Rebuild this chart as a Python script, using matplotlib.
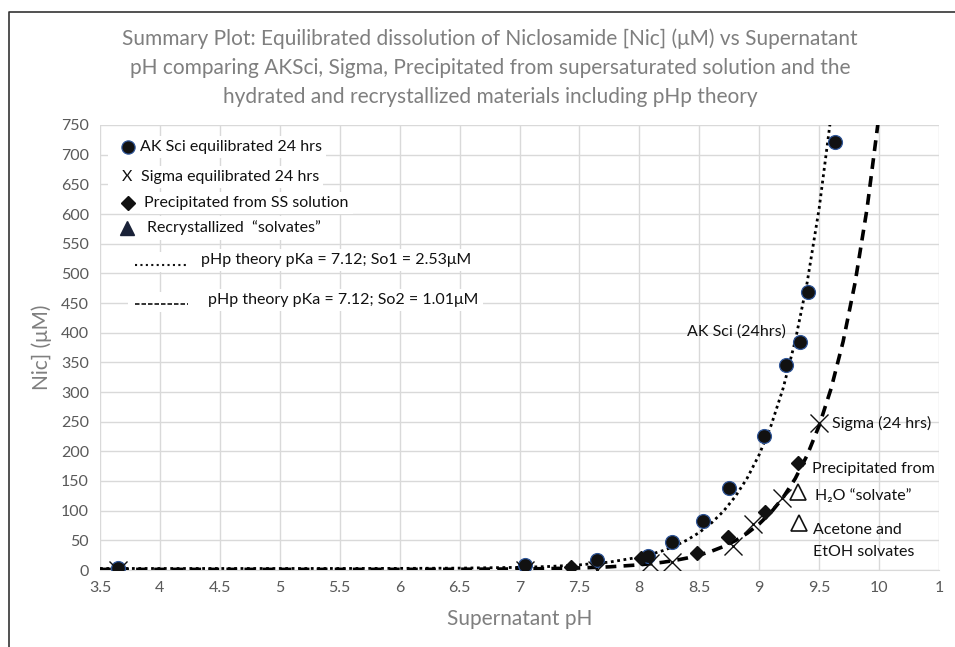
import matplotlib
matplotlib.use("Agg")
import matplotlib.pyplot as plt
from matplotlib.lines import Line2D

plt.rcParams['font.family'] = ['Lato', 'DejaVu Sans']

# ---- data ----
ak_ph = [3.65, 7.05, 7.65, 8.07, 8.27, 8.53, 8.75, 9.04, 9.22, 9.34, 9.41, 9.63]
ak_nic = [3, 8, 17, 24, 48, 83, 138, 226, 346, 384, 469, 722]

sigma_ph = [3.65, 7.05, 7.65, 8.09, 8.27, 8.78, 8.95, 9.19, 9.50]
sigma_nic = [0, 0, 0, 11, 14, 40, 78, 121, 247]

precip_ph = [7.43, 8.01, 8.48, 8.74, 9.05, 9.32]
precip_nic = [4.5, 21, 29, 56, 97, 181]

recryst_ph = [9.32, 9.33]
recryst_nic = [132, 79]

theory1_ph = [3.5, 4.0, 4.5, 5.0, 5.5, 6.0, 6.5, 7.0, 7.25, 7.5, 7.75, 8.0, 8.1, 8.2,
              8.3, 8.4, 8.5, 8.6, 8.7, 8.8, 8.9, 9.0, 9.1, 9.2, 9.3, 9.4, 9.5, 9.6]
theory1_nic = [2.53, 2.53, 2.54, 2.55, 2.59, 2.72, 3.14, 4.45, 5.94, 8.6, 13.3, 21.7, 26.7, 32.9,
               40.8, 50.7, 63.2, 79.0, 98.7, 123.7, 155.0, 194.5, 244.1, 306.6, 385.6, 484.5, 609.4, 766.6]

theory2_ph = [3.5, 4.0, 4.5, 5.0, 5.5, 6.0, 6.5, 7.0, 7.25, 7.5, 7.75, 8.0, 8.1, 8.2,
              8.3, 8.4, 8.5, 8.6, 8.7, 8.8, 8.9, 9.0, 9.1, 9.2, 9.3, 9.4, 9.5, 9.6,
              9.7, 9.8, 9.9, 10.0]
theory2_nic = [1.01, 1.01, 1.01, 1.02, 1.03, 1.09, 1.25, 1.78, 2.37, 3.43, 5.32, 8.68, 10.66, 13.15,
               16.3, 20.25, 25.2, 31.5, 39.4, 49.4, 61.9, 77.7, 97.5, 122.4, 153.9, 193.4, 243.3, 306.0,
               385.0, 484.4, 609.6, 767.2]

x_ticks = [3.5, 4, 4.5, 5, 5.5, 6, 6.5, 7, 7.5, 8, 8.5, 9, 9.5, 10, 10.5]
x_ticklabels = ['3.5', '4', '4.5', '5', '5.5', '6', '6.5', '7', '7.5', '8', '8.5', '9', '9.5', '10', '1']
y_ticks = list(range(0, 751, 50))

title = ("Summary Plot: Equilibrated dissolution of Niclosamide [Nic] (\u03bcM) vs Supernatant\n"
         "pH comparing AKSci, Sigma, Precipitated from supersaturated solution and the\n"
         "hydrated and recrystallized materials including pHp theory")

legend_labels = ['AK Sci equilibrated 24 hrs', 'Sigma equilibrated 24 hrs',
                 'Precipitated from SS solution', 'Recrystallized  \u201csolvates\u201d',
                 'pHp theory pKa = 7.12; So1 = 2.53\u03bcM', 'pHp theory pKa = 7.12; So2 = 1.01\u03bcM']

W, H = 955, 647
fig = plt.figure(figsize=(W / 100, H / 100), dpi=100)
ax = fig.add_axes([100 / W, 1 - 570 / H, (939 - 100) / W, (570 - 125) / H])

gray = '#7f7f7f'
tickc = '#595959'
ink = '#111111'

ax.plot(theory1_ph, theory1_nic, color='black', lw=2.0, linestyle=(0, (1, 1.3)), zorder=3)
ax.plot(theory2_ph, theory2_nic, color='black', lw=2.6, linestyle=(0, (3, 2)), zorder=3)

ax.plot(ak_ph, ak_nic, 'o', ms=10, mfc=ink, mec='#2f5597', mew=0.9, zorder=5)
ax.plot(sigma_ph, sigma_nic, 'x', ms=13, mec=ink, mew=1.0, zorder=6)
ax.plot(precip_ph, precip_nic, 'D', ms=7.5, mfc=ink, mec=ink, zorder=5)
ax.plot(recryst_ph, recryst_nic, '^', ms=11, mfc='white', mec=ink, mew=1.2, zorder=5)

ax.set_xlim(3.5, 10.5)
ax.set_ylim(0, 750)
ax.set_xticks(x_ticks)
ax.set_xticklabels(x_ticklabels)
ax.set_yticks(y_ticks)
ax.grid(True, color='#d9d9d9', lw=1)
ax.set_axisbelow(True)
for s in ['top', 'right', 'left']:
    ax.spines[s].set_visible(False)
ax.spines['bottom'].set_color('#d9d9d9')
ax.tick_params(length=0, colors=tickc, labelsize=11.5, pad=8)

ax.set_xlabel('Supernatant pH', color=gray, fontsize=15, labelpad=10)
ax.set_ylabel('Nic] (\u03bcM)', color=gray, fontsize=15, labelpad=6)

fig.text(490 / W, 1 - 68 / H, title, ha='center', va='center', color=gray,
         fontsize=15, linespacing=1.55)


def axpt(px, py):
    return ((px - 100) / (939 - 100), (570 - py) / (570 - 125))


box = dict(facecolor='white', edgecolor='none', pad=3)

# legend-like text boxes (white behind, like the reference's text boxes)
text_pos = [(140, 147), (141, 177), (144, 203), (147, 228), (201, 260), (208, 300)]
for (px, py), s in zip(text_pos, legend_labels):
    x, y = axpt(px, py)
    ax.text(x, y, s, transform=ax.transAxes, ha='left', va='center',
            fontsize=11.5, color=ink, bbox=box, zorder=7)

# white patches behind legend keys
for (kx0, kx1, ky) in [(108, 140, 147), (108, 140, 177), (108, 144, 203), (108, 147, 228),
                       (128, 200, 262), (128, 205, 302)]:
    x0, y0 = axpt(kx0, ky - 10)
    x1, y1 = axpt(kx1, ky + 10)
    ax.add_patch(plt.Rectangle((x0, y1), x1 - x0, y0 - y1, transform=ax.transAxes,
                               facecolor='white', edgecolor='none', zorder=6.5))

# legend keys
kx, ky = axpt(128, 147)
ax.add_line(Line2D([kx], [ky], transform=ax.transAxes, marker='o', ms=9.5, mfc=ink,
                   mec='#2f5597', mew=0.9, ls='none', zorder=8))
kx, ky = axpt(127, 177)
ax.text(kx, ky, 'X', transform=ax.transAxes, ha='center', va='center', fontsize=11.5,
        color=ink, zorder=8)
kx, ky = axpt(128, 203)
ax.add_line(Line2D([kx], [ky], transform=ax.transAxes, marker='D', ms=7.5, mfc=ink,
                   mec=ink, ls='none', zorder=8))
kx, ky = axpt(127, 228)
ax.add_line(Line2D([kx], [ky], transform=ax.transAxes, marker='^', ms=9.5, mfc='#1a2238',
                   mec='#1a2238', ls='none', zorder=8))
x0, y0 = axpt(135, 265)
x1, _ = axpt(186, 265)
ax.add_line(Line2D([x0, x1], [y0, y0], transform=ax.transAxes, color=ink, lw=1.5,
                   ls=(0, (1, 1.6)), zorder=8))
x0, y0 = axpt(135, 304)
x1, _ = axpt(188, 304)
ax.add_line(Line2D([x0, x1], [y0, y0], transform=ax.transAxes, color=ink, lw=1.2,
                   ls=(0, (2.7, 1.2)), zorder=8))

notes = [
    (687, 332, 'AK Sci (24hrs)'),
    (832, 423, 'Sigma (24 hrs)'),
    (812, 469, 'Precipitated from'),
    (815, 496, 'H\u2082O \u201csolvate\u201d'),
    (813, 530, 'Acetone and'),
    (813, 552, 'EtOH solvates'),
]
for px, py, s in notes:
    x, y = axpt(px, py)
    ax.text(x, y, s, transform=ax.transAxes, ha='left', va='center',
            fontsize=11.5, color=ink, zorder=7)

# chart frame border
fig.add_artist(Line2D([9 / W, 9 / W, 1.0], [0.0, 1 - 12 / H, 1 - 12 / H],
                      transform=fig.transFigure, color='#333333', lw=1.2))

fig.savefig('out.png', dpi=100, facecolor='white')
